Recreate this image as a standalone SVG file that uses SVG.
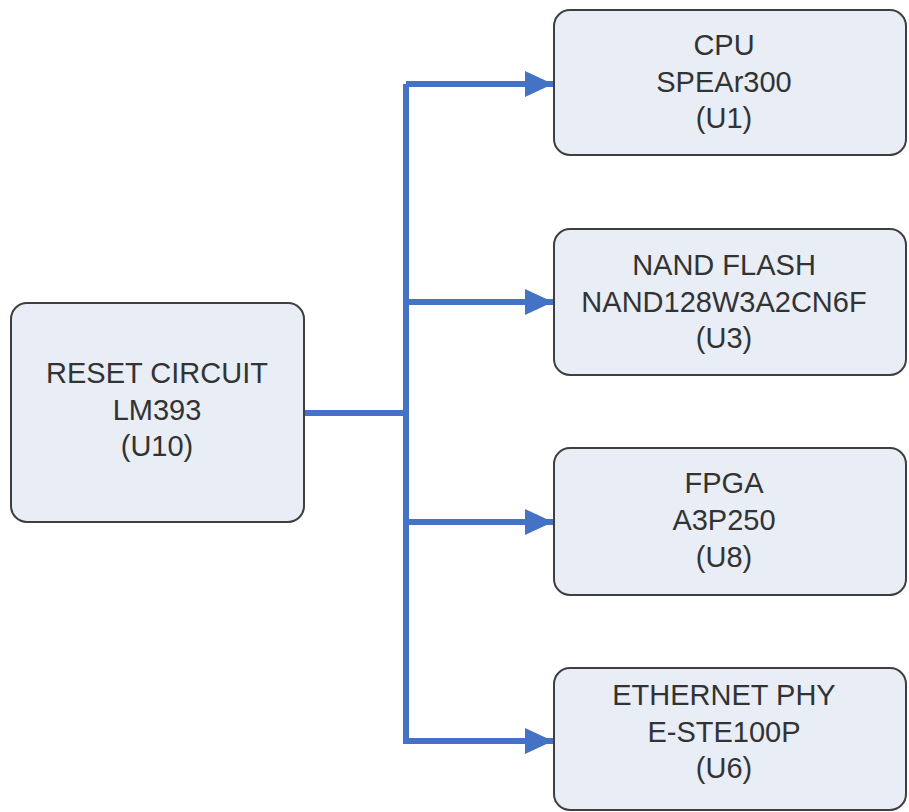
<svg xmlns="http://www.w3.org/2000/svg" width="909" height="812" viewBox="0 0 909 812">
<defs>
<style>
.box{fill:#E8EDF6;stroke:#3F3F3F;stroke-width:2}
.t{font-family:"Liberation Sans",Arial,sans-serif;font-size:29px;fill:#333333;text-anchor:middle}
.w{fill:none;stroke:#4472C4;stroke-width:6}
</style>
<marker id="ah" markerUnits="userSpaceOnUse" markerWidth="28" markerHeight="26" refX="28" refY="13" orient="auto">
<path d="M0,0 L28,13 L0,26 Z" fill="#4472C4"/>
</marker>
</defs>
<rect width="909" height="812" fill="#ffffff"/>
<g id="connectors">
<path class="w" d="M304,413 H406" stroke-linecap="round"/>
<path class="w" d="M406,84 V741"/>
<path class="w" d="M406,84 H553" marker-end="url(#ah)"/>
<path class="w" d="M406,302 H553" marker-end="url(#ah)"/>
<path class="w" d="M406,522 H553" marker-end="url(#ah)"/>
<path class="w" d="M403,741 H553" marker-end="url(#ah)"/>
</g>
<g id="reset">
<rect class="box" x="11" y="303" width="293" height="219" rx="16"/>
<text class="t" x="157" y="383">RESET CIRCUIT</text>
<text class="t" x="157" y="420">LM393</text>
<text class="t" x="157" y="456">(U10)</text>
</g>
<g id="cpu">
<rect class="box" x="554" y="10" width="352" height="145" rx="16"/>
<text class="t" x="724" y="55">CPU</text>
<text class="t" x="724" y="92">SPEAr300</text>
<text class="t" x="724" y="128">(U1)</text>
</g>
<g id="nand">
<rect class="box" x="554" y="229" width="352" height="146" rx="16"/>
<text class="t" x="724" y="275">NAND FLASH</text>
<text class="t" x="724" y="312">NAND128W3A2CN6F</text>
<text class="t" x="724" y="348">(U3)</text>
</g>
<g id="fpga">
<rect class="box" x="554" y="448" width="352" height="147" rx="16"/>
<text class="t" x="724" y="493">FPGA</text>
<text class="t" x="724" y="530">A3P250</text>
<text class="t" x="724" y="567">(U8)</text>
</g>
<g id="ethernet">
<rect class="box" x="554" y="668" width="352" height="142" rx="16"/>
<text class="t" x="724" y="705">ETHERNET PHY</text>
<text class="t" x="724" y="742">E-STE100P</text>
<text class="t" x="724" y="778">(U6)</text>
</g>
</svg>
